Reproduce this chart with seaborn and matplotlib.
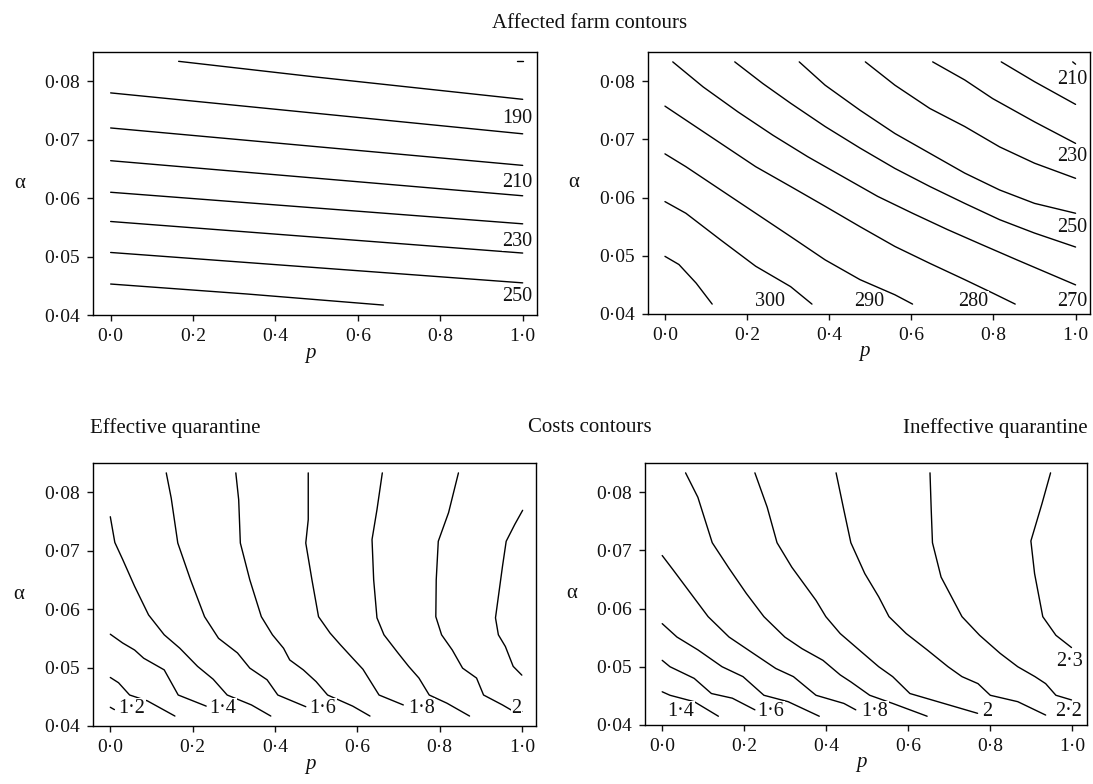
import matplotlib

matplotlib.use("Agg", force=True)
import matplotlib.pyplot as plt
import numpy as np
import pandas as pd
import seaborn as sns

# contour lines: each entry is (p values, alpha values)
farm_effective_lines = [
    ([0.165, 0.5, 1.0], [0.0834, 0.0807, 0.0769]),
    ([0.986, 1.0], [0.0834, 0.0834]),
    ([0.0, 0.5, 1.0], [0.0780, 0.0745, 0.0710]),
    ([0.0, 0.5, 1.0], [0.0720, 0.0688, 0.0656]),
    ([0.0, 0.5, 1.0], [0.0664, 0.0634, 0.0604]),
    ([0.0, 0.5, 1.0], [0.0610, 0.0583, 0.0556]),
    ([0.0, 0.5, 1.0], [0.0560, 0.0533, 0.0506]),
    ([0.0, 0.5, 1.0], [0.0507, 0.0481, 0.0455]),
    ([0.0, 0.33, 0.662], [0.0453, 0.0436, 0.0417]),
]
farm_ineffective_lines = [
    ([0.819, 0.9, 1.0], [0.0833, 0.0799, 0.0760]),
    ([0.993, 1.0], [0.0833, 0.0829]),
    ([0.652, 0.73, 0.798, 0.9, 1.0], [0.0833, 0.0802, 0.0770, 0.0730, 0.0693]),
    ([0.488, 0.56, 0.645, 0.73, 0.815, 0.9, 1.0],
     [0.0833, 0.0793, 0.0753, 0.0722, 0.0687, 0.0659, 0.0633]),
    ([0.327, 0.39, 0.475, 0.56, 0.645, 0.73, 0.815, 0.9, 1.0],
     [0.0833, 0.0793, 0.0750, 0.0710, 0.0676, 0.0642, 0.0613, 0.0590, 0.0573]),
    ([0.170, 0.238, 0.306, 0.39, 0.475, 0.56, 0.645, 0.73, 0.815, 0.9, 1.0],
     [0.0833, 0.0796, 0.0762, 0.0722, 0.0685, 0.0650, 0.0619, 0.0590, 0.0562, 0.0539, 0.0515]),
    ([0.019, 0.093, 0.178, 0.263, 0.348, 0.433, 0.518, 0.603, 0.688, 0.772, 0.857, 1.0],
     [0.0833, 0.0790, 0.0747, 0.0707, 0.0670, 0.0636, 0.0602, 0.0573, 0.0545, 0.0519, 0.0493, 0.0450]),
    ([0.0, 0.051, 0.136, 0.221, 0.306, 0.39, 0.475, 0.56, 0.645, 0.73, 0.798, 0.853],
     [0.0757, 0.0733, 0.0693, 0.0653, 0.0619, 0.0585, 0.0550, 0.0516, 0.0487, 0.0459, 0.0436, 0.0417]),
    ([0.0, 0.051, 0.136, 0.221, 0.306, 0.39, 0.475, 0.56, 0.603],
     [0.0675, 0.0653, 0.0613, 0.0573, 0.0533, 0.0493, 0.0459, 0.0433, 0.0417]),
    ([0.0, 0.051, 0.136, 0.221, 0.306, 0.358], [0.0593, 0.0573, 0.0527, 0.0482, 0.0447, 0.0417]),
    ([0.0, 0.034, 0.076, 0.115], [0.0499, 0.0485, 0.0453, 0.0417]),
]
cost_effective_lines = [
    ([0.0, 0.02, 0.047, 0.09, 0.157], [0.0483, 0.0474, 0.0453, 0.0443, 0.0417]),
    ([0.0, 0.01], [0.0432, 0.0428]),
    ([0.0, 0.03, 0.059, 0.081, 0.131, 0.165, 0.233],
     [0.0557, 0.0542, 0.0530, 0.0516, 0.0496, 0.0453, 0.0434]),
    ([0.0, 0.011, 0.030, 0.059, 0.093, 0.131, 0.169, 0.212, 0.25, 0.284, 0.343, 0.39],
     [0.0758, 0.0714, 0.0685, 0.0639, 0.0590, 0.0556, 0.0533, 0.0502, 0.0480, 0.0453, 0.0436, 0.0417]),
    ([0.136, 0.148, 0.164, 0.195, 0.229, 0.263, 0.309, 0.339, 0.381, 0.407, 0.475],
     [0.0833, 0.0790, 0.0713, 0.0650, 0.0587, 0.0550, 0.0525, 0.0499, 0.0479, 0.0453, 0.0433]),
    ([0.305, 0.312, 0.316, 0.339, 0.367, 0.394, 0.421, 0.436, 0.469, 0.5, 0.528, 0.589, 0.631],
     [0.0833, 0.0787, 0.0713, 0.0650, 0.0587, 0.0556, 0.0533, 0.0513, 0.0496, 0.0476, 0.0453, 0.0434, 0.0417]),
    ([0.481, 0.481, 0.475, 0.49, 0.506, 0.534, 0.559, 0.589, 0.614, 0.653, 0.712],
     [0.0833, 0.0753, 0.0713, 0.0650, 0.0587, 0.0559, 0.0539, 0.0516, 0.0497, 0.0453, 0.0436]),
    ([0.661, 0.648, 0.636, 0.64, 0.648, 0.665, 0.699, 0.725, 0.75, 0.775, 0.818, 0.873],
     [0.0833, 0.0770, 0.0719, 0.0650, 0.0585, 0.0556, 0.0525, 0.0502, 0.0482, 0.0453, 0.0439, 0.0417]),
    ([0.846, 0.822, 0.797, 0.792, 0.791, 0.805, 0.831, 0.856, 0.89, 0.907, 0.953, 0.975, 1.0],
     [0.0833, 0.0765, 0.0716, 0.0650, 0.0587, 0.0556, 0.0530, 0.0499, 0.0482, 0.0453, 0.0436, 0.0427, 0.0425]),
    ([1.002, 0.983, 0.962, 0.953, 0.936, 0.943, 0.96, 0.979, 1.0],
     [0.0769, 0.0745, 0.0716, 0.0673, 0.0585, 0.0556, 0.0536, 0.0502, 0.0487]),
]
cost_ineffective_lines = [
    ([0.0, 0.019, 0.078, 0.137], [0.0457, 0.0451, 0.0440, 0.0415]),
    ([0.0, 0.019, 0.078, 0.12, 0.171, 0.226], [0.0511, 0.0500, 0.0480, 0.0454, 0.0446, 0.0426]),
    ([0.0, 0.036, 0.087, 0.146, 0.197, 0.248, 0.307, 0.383],
     [0.0574, 0.0551, 0.0529, 0.0500, 0.0483, 0.0451, 0.0440, 0.0415]),
    ([0.0, 0.027, 0.061, 0.112, 0.163, 0.222, 0.277, 0.32, 0.375, 0.443, 0.472],
     [0.0691, 0.0666, 0.0634, 0.0586, 0.0551, 0.0523, 0.0497, 0.0483, 0.0451, 0.0437, 0.0426]),
    ([0.057, 0.087, 0.122, 0.163, 0.205, 0.248, 0.299, 0.341, 0.392, 0.434, 0.46, 0.506, 0.562, 0.646],
     [0.0833, 0.0791, 0.0713, 0.0669, 0.0626, 0.0586, 0.0551, 0.0531, 0.0511, 0.0486, 0.0474, 0.0451, 0.0437, 0.0415]),
    ([0.226, 0.256, 0.28, 0.316, 0.375, 0.399, 0.434, 0.485, 0.528, 0.562, 0.604, 0.672, 0.769],
     [0.0833, 0.0774, 0.0713, 0.0671, 0.0614, 0.0586, 0.0557, 0.0526, 0.0500, 0.0483, 0.0454, 0.0440, 0.0420]),
    ([0.424, 0.443, 0.46, 0.494, 0.528, 0.553, 0.595, 0.646, 0.697, 0.731, 0.77, 0.8, 0.867, 0.935],
     [0.0833, 0.0769, 0.0713, 0.0660, 0.0620, 0.0586, 0.0557, 0.0529, 0.0500, 0.0483, 0.0471, 0.0451, 0.0440, 0.0417]),
    ([0.653, 0.656, 0.659, 0.68, 0.731, 0.774, 0.824, 0.867, 0.909, 0.935, 0.96, 0.998],
     [0.0833, 0.0769, 0.0713, 0.0654, 0.0586, 0.0554, 0.0523, 0.0500, 0.0483, 0.0471, 0.0451, 0.0443]),
    ([0.947, 0.926, 0.899, 0.908, 0.928, 0.96, 0.998],
     [0.0833, 0.0780, 0.0716, 0.0660, 0.0586, 0.0554, 0.0533]),
]

# contour labels: text, p, alpha
farm_effective_labels = [("190", 0.987, 0.0737), ("210", 0.987, 0.0627),
                         ("230", 0.987, 0.0526), ("250", 0.987, 0.0431)]
farm_ineffective_labels = [("210", 0.991, 0.0802), ("230", 0.991, 0.0670), ("250", 0.991, 0.0549),
                           ("270", 0.991, 0.0422), ("300", 0.257, 0.0422), ("290", 0.497, 0.0422),
                           ("280", 0.751, 0.0422)]
cost_effective_labels = [("1·2", 0.053, 0.0430), ("1·4", 0.274, 0.0430), ("1·6", 0.517, 0.0430),
                         ("1·8", 0.756, 0.0430), ("2", 0.987, 0.0430)]
cost_ineffective_labels = [("1·4", 0.046, 0.0423), ("1·6", 0.265, 0.0423), ("1·8", 0.519, 0.0423),
                           ("2", 0.792, 0.0423), ("2·2", 0.992, 0.0423), ("2·3", 0.992, 0.0509)]

p_ticks = [0.0, 0.2, 0.4, 0.6, 0.8, 1.0]
p_tick_labels = ["0·0", "0·2", "0·4", "0·6", "0·8", "1·0"]
alpha_ticks = [0.04, 0.05, 0.06, 0.07, 0.08]
alpha_tick_labels = ["0·04", "0·05", "0·06", "0·07", "0·08"]

sns.set_theme(style="ticks")
plt.rcParams["font.family"] = ["Liberation Serif", "DejaVu Serif"]
plt.rcParams["text.color"] = "#111111"

fig = plt.figure(figsize=(10.93, 7.84), dpi=100)
positions = [
    [0.0854, 0.5982, 0.4060, 0.3355],
    [0.5926, 0.5995, 0.4046, 0.3342],
    [0.0851, 0.0740, 0.4055, 0.3355],
    [0.5901, 0.0753, 0.4041, 0.3342],
]
panels = [
    (farm_effective_lines, farm_effective_labels),
    (farm_ineffective_lines, farm_ineffective_labels),
    (cost_effective_lines, cost_effective_labels),
    (cost_ineffective_lines, cost_ineffective_labels),
]


def lines_frame(lines):
    rows = []
    for i, (ps, alphas) in enumerate(lines):
        for order, (p, a) in enumerate(zip(ps, alphas)):
            rows.append({"line": i, "order": order, "p": p, "alpha": a})
    return pd.DataFrame(rows)


for pos, (lines, labels) in zip(positions, panels):
    ax = fig.add_axes(pos)
    df = lines_frame(lines)
    sns.lineplot(data=df, x="p", y="alpha", units="line", estimator=None, sort=False,
                 color="black", linewidth=1.0, ax=ax)
    for text, p, a in labels:
        ax.text(p, a, text, ha="center", va="center", fontsize=14.5,
                bbox=dict(facecolor="white", edgecolor="none", pad=0.5))
    ax.set_xlim(-0.042, 1.035)
    ax.set_ylim(0.04, 0.085)
    ax.set_xticks(p_ticks)
    ax.set_xticklabels(p_tick_labels)
    ax.set_yticks(alpha_ticks)
    ax.set_yticklabels(alpha_tick_labels)
    ax.tick_params(direction="out", length=4.5, width=1, labelsize=14, pad=5, colors="#111111")
    for spine in ax.spines.values():
        spine.set_visible(True)
        spine.set_color("black")
        spine.set_linewidth(1.0)
    ax.set_xlabel("")
    ax.set_ylabel("")
    ax.text(-0.167, 0.5, "α", transform=ax.transAxes, ha="center", va="center", fontsize=15)
    ax.text(0.49, -0.145, "p", transform=ax.transAxes, ha="center", va="center",
            fontsize=15, style="italic")

fig.text(590 / 1093, 1 - 23 / 784, "Affected farm contours", ha="center", va="center", fontsize=15)
fig.text(90 / 1093, 1 - 428 / 784, "Effective quarantine", ha="left", va="center", fontsize=15)
fig.text(590 / 1093, 1 - 428 / 784, "Costs contours", ha="center", va="center", fontsize=15)
fig.text(1088 / 1093, 1 - 428 / 784, "Ineffective quarantine", ha="right", va="center", fontsize=15)

fig.savefig("out.png", dpi=100)
plt.close(fig)
